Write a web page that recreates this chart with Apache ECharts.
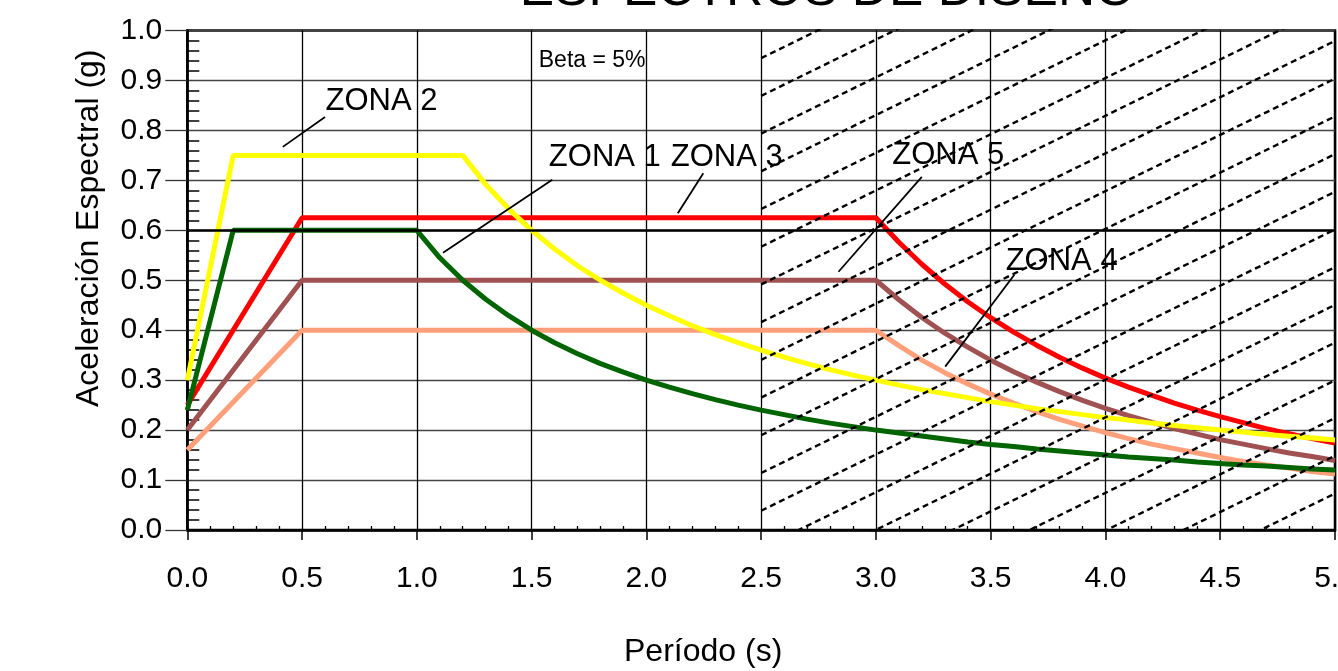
<!DOCTYPE html>
<html><head><meta charset="utf-8">
<script src="https://cdn.jsdelivr.net/npm/echarts@6/dist/echarts.min.js"></script>
<style>html,body{margin:0;padding:0;background:#fff}#c{width:1338px;height:671px}</style>
</head><body><div id="c"></div>
<script>
const FONT = '"Liberation Sans", Arial, Helvetica, sans-serif';

// Spectra: [period (s), spectral acceleration (g)]
const zona1 = [[0,0.24],[0.2,0.6],[1.0,0.6],[1.1,0.545],[1.2,0.5],[1.3,0.462],[1.4,0.429],[1.5,0.4],[1.6,0.375],[1.7,0.353],[1.8,0.333],[1.9,0.316],[2.0,0.3],[2.1,0.286],[2.2,0.273],[2.3,0.261],[2.4,0.25],[2.5,0.24],[2.6,0.231],[2.7,0.222],[2.8,0.214],[2.9,0.207],[3.0,0.2],[3.1,0.194],[3.2,0.188],[3.3,0.182],[3.4,0.176],[3.5,0.171],[3.6,0.167],[3.7,0.162],[3.8,0.158],[3.9,0.154],[4.0,0.15],[4.1,0.146],[4.2,0.143],[4.3,0.14],[4.4,0.136],[4.5,0.133],[4.6,0.13],[4.7,0.128],[4.8,0.125],[4.9,0.122],[5.0,0.12]];
const zona2 = [[0,0.3],[0.2,0.75],[1.2,0.75],[1.3,0.692],[1.4,0.643],[1.5,0.6],[1.6,0.5625],[1.7,0.529],[1.8,0.5],[1.9,0.474],[2.0,0.45],[2.1,0.429],[2.2,0.409],[2.3,0.391],[2.4,0.375],[2.5,0.36],[2.6,0.346],[2.7,0.333],[2.8,0.321],[2.9,0.31],[3.0,0.3],[3.1,0.29],[3.2,0.281],[3.3,0.273],[3.4,0.265],[3.5,0.257],[3.6,0.25],[3.7,0.243],[3.8,0.237],[3.9,0.231],[4.0,0.225],[4.1,0.22],[4.2,0.214],[4.3,0.209],[4.4,0.2045],[4.5,0.2],[4.6,0.196],[4.7,0.191],[4.8,0.1875],[4.9,0.184],[5.0,0.18]];
const zona3 = [[0,0.25],[0.5,0.625],[3.0,0.625],[3.1,0.576],[3.2,0.532],[3.3,0.4925],[3.4,0.457],[3.5,0.425],[3.6,0.396],[3.7,0.37],[3.8,0.346],[3.9,0.324],[4.0,0.304],[4.1,0.286],[4.2,0.27],[4.3,0.254],[4.4,0.24],[4.5,0.227],[4.6,0.215],[4.7,0.203],[4.8,0.193],[4.9,0.183],[5.0,0.174]];
const zona5 = [[0,0.2],[0.5,0.5],[3.0,0.5],[3.1,0.461],[3.2,0.4255],[3.3,0.394],[3.4,0.366],[3.5,0.34],[3.6,0.317],[3.7,0.296],[3.8,0.277],[3.9,0.2595],[4.0,0.2435],[4.1,0.229],[4.2,0.216],[4.3,0.203],[4.4,0.192],[4.5,0.181],[4.6,0.172],[4.7,0.163],[4.8,0.154],[4.9,0.147],[5.0,0.139]];
const zona4 = [[0,0.16],[0.5,0.4],[3.0,0.4],[3.1,0.369],[3.2,0.34],[3.3,0.315],[3.4,0.2925],[3.5,0.272],[3.6,0.254],[3.7,0.237],[3.8,0.2215],[3.9,0.208],[4.0,0.195],[4.1,0.183],[4.2,0.172],[4.3,0.163],[4.4,0.154],[4.5,0.145],[4.6,0.137],[4.7,0.13],[4.8,0.124],[4.9,0.117],[5.0,0.112]];

// Hatched zone (T from 2.5 to 5.0): each dashed line's value at T=2.5 and its rise to T=5.0
const hatchFromT = 2.5;
const hatchToT = 5.0;
const hatchStart = [-0.4899,-0.4144,-0.3389,-0.2634,-0.1879,-0.1124,-0.0369,0.0386,0.1141,0.1896,0.2651,0.3406,0.4161,0.4916,0.5671,0.6426,0.7181,0.7936,0.8691,0.9446];
const hatchRise = 0.563;

// Annotations (data coordinates)
const zoneLabels = [
  {name:'ZONA 2', value:[0.600,0.858]},
  {name:'ZONA 1', value:[1.573,0.7455]},
  {name:'ZONA 3', value:[2.104,0.7455]},
  {name:'ZONA 5', value:[3.069,0.749]},
  {name:'ZONA 4', value:[3.563,0.5385]}
];
const betaLabel = [{name:'Beta = 5%', value:[1.529,0.940]}];
const leaders = [
  [[0.416,0.767],[0.600,0.827]],
  [[1.590,0.701],[1.114,0.555]],
  [[2.248,0.714],[2.137,0.634]],
  [[3.200,0.707],[2.837,0.517]],
  [[3.603,0.511],[3.302,0.327]]
];

const chart = echarts.init(document.getElementById('c'), null, {renderer:'canvas'});

function curve(name, data, color){
  return {type:'line', name, data, showSymbol:false, symbol:'none', clip:true, z:3,
    lineStyle:{color, width:5}, itemStyle:{color}, silent:true};
}

const option = {
  animation:false,
  backgroundColor:'#fff',
  graphic:[{type:'text', x:827.5, y:-9.5, z:10,
    style:{text:'ESPECTROS DE DISEÑO', fontSize:51.5, fontFamily:FONT, fill:'#000', align:'center', verticalAlign:'middle'}}],
  grid:{left:187.3, right:3, top:30.5, bottom:141, containLabel:false, outerBoundsMode:'none',
    show:true, borderColor:'#000', borderWidth:2.5, backgroundColor:'transparent'},
  xAxis:[{
    type:'value', min:0, max:5, interval:0.5,
    axisLine:{show:true, onZero:false, lineStyle:{color:'#000', width:2.5}},
    axisTick:{show:true, length:10, lineStyle:{color:'#000', width:1.5}},
    axisLabel:{formatter:v=>v.toFixed(1), fontSize:30, fontFamily:FONT, color:'#000', margin:34},
    splitLine:{show:true, lineStyle:{color:'#000', width:1.3}},
    name:'Período (s)', nameLocation:'middle', nameGap:106,
    nameTextStyle:{fontSize:32, fontFamily:FONT, color:'#000', padding:[0,116,0,0]}
  },{
    type:'value', min:0, max:5, interval:0.5, position:'bottom',
    axisLine:{show:false}, axisTick:{show:false, inside:true}, axisLabel:{show:false}, splitLine:{show:false},
    minorTick:{show:true, splitNumber:5, length:4, lineStyle:{color:'#000', width:1.3}}
  }],
  yAxis:[{
    type:'value', min:0, max:1, interval:0.1,
    axisLine:{show:true, onZero:false, lineStyle:{color:'#000', width:2.5}},
    axisTick:{show:true, length:22, lineStyle:{color:'#333', width:1.3}},
    axisLabel:{formatter:v=>v.toFixed(1), fontSize:30, fontFamily:FONT, color:'#000', margin:25, padding:[5,0,0,0]},
    splitLine:{show:true, lineStyle:{color:'#444', width:1.3}},
    name:'Aceleración Espectral (g)', nameLocation:'middle', nameGap:82, nameRotate:90,
    nameTextStyle:{fontSize:32, fontFamily:FONT, color:'#000', padding:[0,0,0,104]}
  },{
    type:'value', min:0, max:1, interval:0.1, position:'left',
    axisLine:{show:false}, axisTick:{show:false, inside:true}, axisLabel:{show:false}, splitLine:{show:false},
    minorTick:{show:true, splitNumber:5, length:12, lineStyle:{color:'#000', width:1.5}}
  }],
  series:[
    Object.assign(curve('ZONA 3', zona3, '#FF0000'), {
      markLine:{silent:true, symbol:'none', label:{show:false}, animation:false,
        lineStyle:{color:'#000', width:2.5, type:'solid'}, data:[{yAxis:0.6}]}
    }),
    curve('ZONA 5', zona5, '#A05252'),
    curve('ZONA 4', zona4, '#FFA07A'),
    curve('ZONA 1', zona1, '#006400'),
    curve('ZONA 2', zona2, '#FFFF00'),
    {type:'lines', coordinateSystem:'cartesian2d', polyline:false, clip:true, silent:true, z:4,
      lineStyle:{color:'#000', width:2.4, type:[6,4], opacity:1, curveness:0},
      data:hatchStart.map(g=>({coords:[[hatchFromT,g],[hatchToT,g+hatchRise]]}))},
    {type:'lines', coordinateSystem:'cartesian2d', polyline:false, clip:false, silent:true, z:5,
      lineStyle:{color:'#000', width:1.8, type:'solid', opacity:1, curveness:0},
      data:leaders.map(c=>({coords:c}))},
    {type:'scatter', data:zoneLabels, symbolSize:1, itemStyle:{color:'rgba(0,0,0,0)'}, silent:true, z:6,
      label:{show:true, position:'right', distance:0, formatter:p=>p.name, fontSize:31, fontFamily:FONT, color:'#000', opacity:1}},
    {type:'scatter', data:betaLabel, symbolSize:1, itemStyle:{color:'rgba(0,0,0,0)'}, silent:true, z:6,
      label:{show:true, position:'right', distance:0, formatter:p=>p.name, fontSize:23, fontFamily:FONT, color:'#000', opacity:1}}
  ]
};
chart.setOption(option);
</script></body></html>
